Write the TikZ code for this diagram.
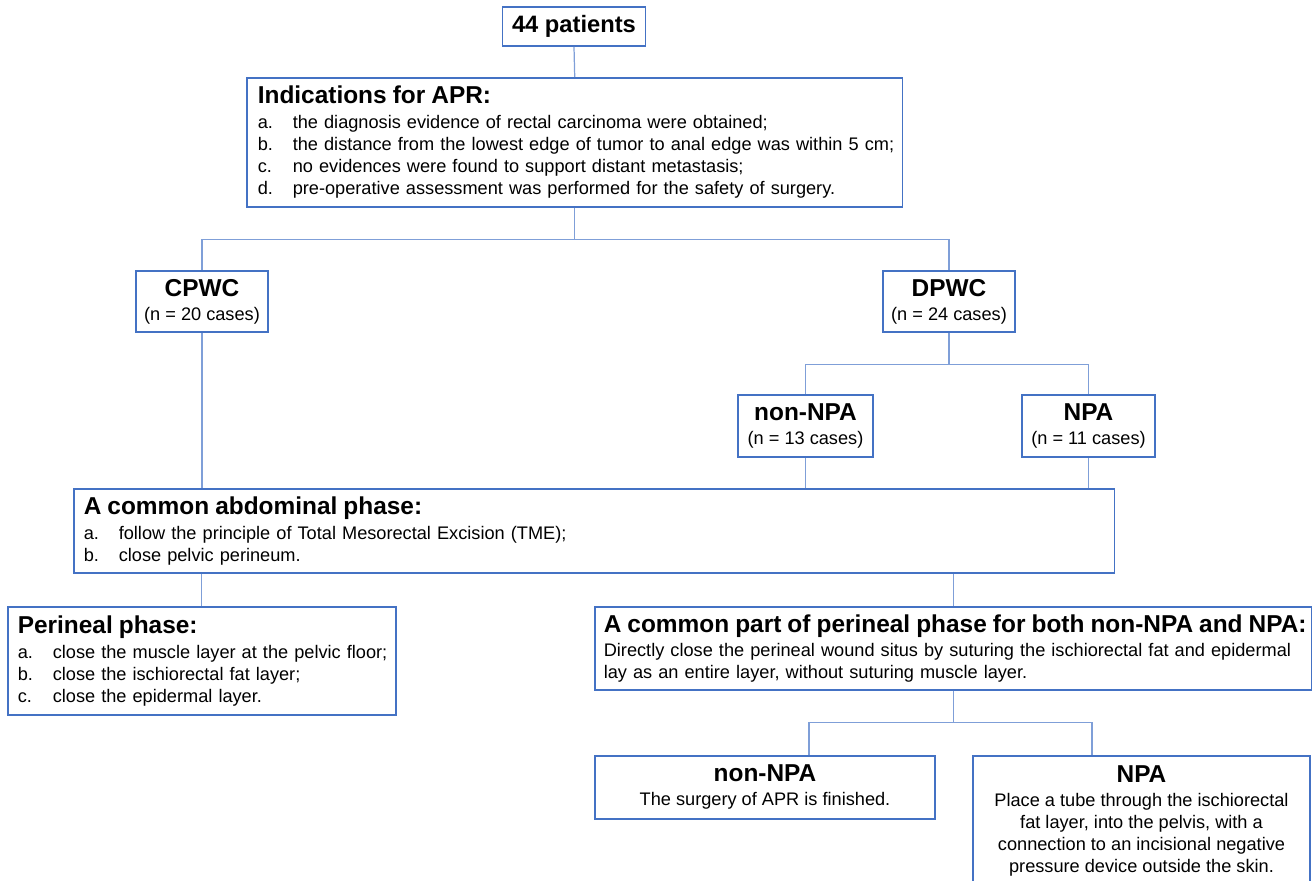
\documentclass[tikz,border=0pt]{standalone}
\usepackage{fontspec}
\setmainfont{Liberation Sans}
\usetikzlibrary{positioning}

\definecolor{boxblue}{HTML}{4472C4}
\definecolor{lineblue}{HTML}{7F9FD8}
\newcommand{\hd}{\fontsize{13.9}{16}\selectfont\bfseries}
\newcommand{\bd}{\fontsize{10.35}{12.5}\selectfont}
\newcommand{\hdline}[1]{\mbox{\hd #1}}
\newcommand{\itm}[2]{\mbox{\makebox[0.7cm][l]{#1}#2}}

\tikzset{
  box/.style={draw=boxblue, line width=0.9pt, rectangle, inner sep=0pt, font=\bd},
  listbox/.style={box, anchor=north west, align=left, inner xsep=0.2cm},
  cbox/.style={box, align=center},
  link/.style={draw=lineblue, line width=0.7pt},
}

\begin{document}
\begin{tikzpicture}[x=0.02cm, y=0.02cm]
\useasboundingbox (0,0) rectangle (1313,-881);

% top of the chart
\node[box, minimum width=2.86cm, minimum height=0.78cm, font=\fontsize{13.5}{16}\selectfont\bfseries] (pat) at (574,-26.5) {44 patients};

\node[listbox, inner xsep=0.22cm, text width=12.68cm, minimum height=2.58cm] (ind) at (246,-77)
  {\hdline{Indications for APR:}\\[1.7pt]
   \itm{a.}{the diagnosis evidence of rectal carcinoma were obtained;}\\
   \itm{b.}{the distance from the lowest edge of tumor to anal edge was within 5 cm;}\\
   \itm{c.}{no evidences were found to support distant metastasis;}\\
   \itm{d.}{pre-operative assessment was performed for the safety of surgery.}};

% groups
\node[cbox, minimum width=2.64cm, minimum height=1.22cm] (cpwc) at (202,-301.5)
  {{\hd CPWC}\\[1.1pt] (n = 20 cases)};
\node[cbox, minimum width=2.64cm, minimum height=1.22cm] (dpwc) at (949,-301.5)
  {{\hd DPWC}\\[1.1pt] (n = 24 cases)};
\node[cbox, minimum width=2.7cm, minimum height=1.24cm] (nnpa) at (805.5,-426)
  {{\hd non-NPA}\\[1.1pt] (n = 13 cases)};
\node[cbox, minimum width=2.66cm, minimum height=1.24cm] (npa) at (1088.5,-426)
  {{\hd NPA}\\[1.1pt] (n = 11 cases)};

% abdominal phase
\node[listbox, text width=20.42cm, minimum height=1.68cm] (abd) at (73,-488)
  {\hdline{A common abdominal phase:}\\[1.7pt]
   \itm{a.}{follow the principle of Total Mesorectal Excision (TME);}\\
   \itm{b.}{close pelvic perineum.}};

% perineal phase
\node[listbox, text width=7.36cm, minimum height=2.16cm] (per) at (7,-606)
  {\hdline{Perineal phase:}\\[1.7pt]
   \itm{a.}{close the muscle layer at the pelvic floor;}\\
   \itm{b.}{close the ischiorectal fat layer;}\\
   \itm{c.}{close the epidermal layer.}};
\node[listbox, inner xsep=0.18cm, text width=13.98cm, minimum height=1.66cm] (cpart) at (594,-606)
  {\hdline{A common part of perineal phase for both non-NPA and NPA:}\\[1.1pt]
   \mbox{Directly close the perineal wound situs by suturing the ischiorectal fat and epidermal}\\
   \mbox{lay as an entire layer, without suturing muscle layer.}};

% last step
\node[cbox, anchor=north, minimum width=6.8cm, minimum height=1.26cm] (bnon) at (765,-755)
  {{\hd non-NPA}\\[1.1pt] The surgery of APR is finished.};
\node[cbox, anchor=north, minimum width=6.74cm, minimum height=2.6cm] (bnpa) at (1141.5,-755)
  {{\hd NPA}\\[1.1pt] Place a tube through the ischiorectal\\
   fat layer, into the pelvis, with a\\
   connection to an incisional negative\\
   pressure device outside the skin.};

% connectors
\coordinate (j1) at ([yshift=-0.64cm]ind.south);
\coordinate (j2) at ([yshift=-0.64cm]dpwc.south);
\coordinate (j3) at ([yshift=-0.64cm]cpart.south);
\coordinate (j3l) at (809,-721);
\coordinate (j3r) at (1092,-721);

\draw[link] (pat.south) -- (ind.north);
\draw[link] (ind.south) -- (j1);
\draw[link] (cpwc.north) |- (j1) -| (dpwc.north);
\draw[link] (dpwc.south) -- (j2);
\draw[link] (nnpa.north) |- (j2) -| (npa.north);
\draw[link] (cpwc.south) -- (cpwc.south |- abd.north);
\draw[link] (nnpa.south) -- (nnpa.south |- abd.north);
\draw[link] (npa.south) -- (npa.south |- abd.north);
\draw[link] (per.north) -- (per.north |- abd.south);
\draw[link] (cpart.north) -- (cpart.north |- abd.south);
\draw[link] (cpart.south) -- (j3);
\draw[link] (j3l |- bnon.north) -- (j3l |- j3) -- (j3r |- j3) -- (j3r |- bnpa.north);
\end{tikzpicture}
\end{document}
